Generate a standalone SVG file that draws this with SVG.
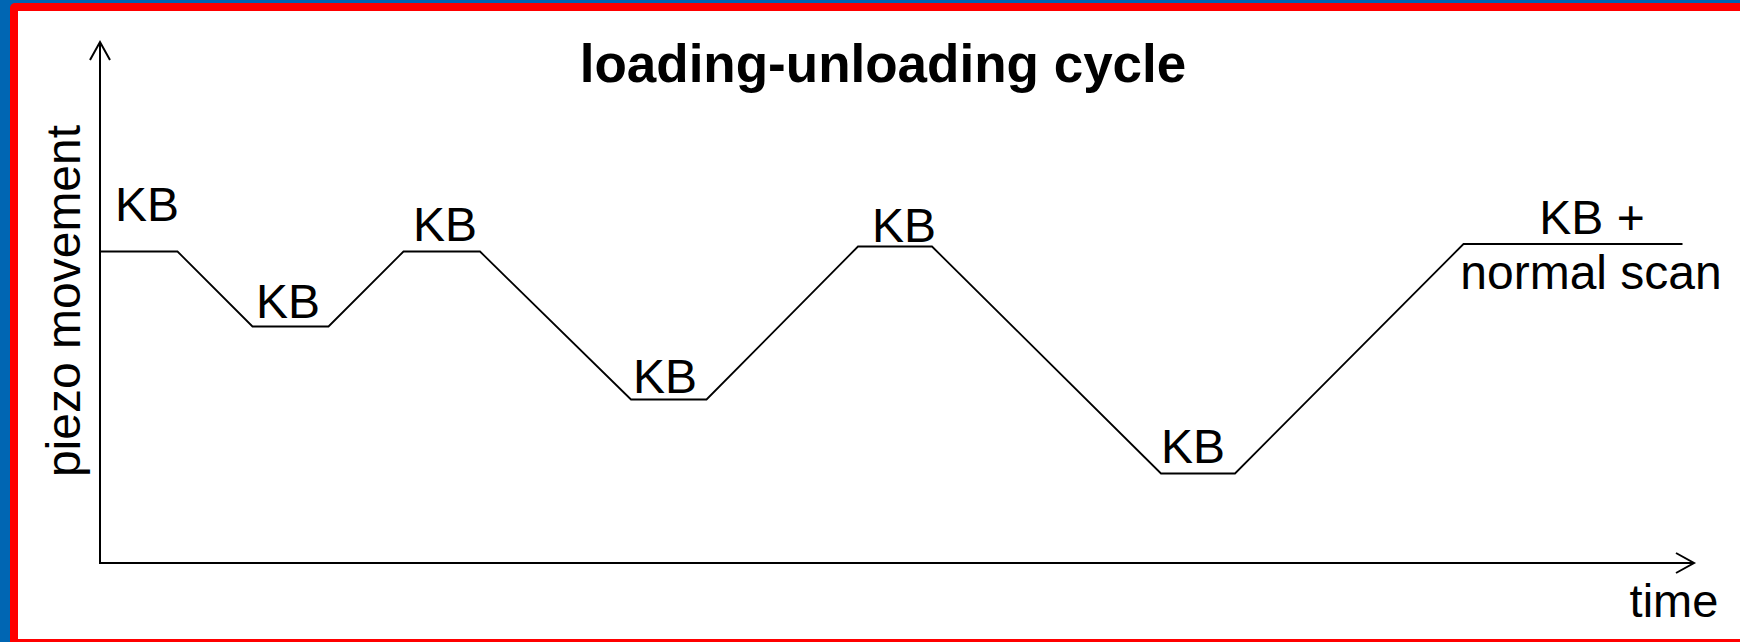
<svg xmlns="http://www.w3.org/2000/svg" width="1740" height="642" viewBox="0 0 1740 642">
  <style>
    .ln { fill: none; stroke: #000; stroke-width: 1.8; stroke-linejoin: miter; stroke-linecap: butt; }
    .ax { fill: none; stroke: #000; stroke-width: 2; }
    .lbl { font-family: "Liberation Sans", Arial, sans-serif; font-size: 48px; fill: #000; }
    .title { font-family: "Liberation Sans", Arial, sans-serif; font-size: 53px; font-weight: bold; fill: #000; }
  </style>
  <defs>
    <marker id="arrow" markerWidth="24" markerHeight="24" viewBox="-20 -12 24 24" refX="0" refY="0" orient="auto" markerUnits="userSpaceOnUse">
      <path d="M -18 -10 L 0 0 L -18 10" fill="none" stroke="#000" stroke-width="2"/>
    </marker>
  </defs>
  <g id="frame">
    <rect x="0" y="0" width="1740" height="642" fill="#0066b3"/>
    <rect x="10" y="3" width="1760" height="660" rx="5" fill="#ff0000"/>
    <rect x="18" y="11" width="1740" height="628" fill="#ffffff"/>
  </g>
  <g id="title">
    <text class="title" x="883" y="82" text-anchor="middle">loading-unloading cycle</text>
  </g>
  <g id="connectors">
    <path id="y-axis" class="ax" d="M 100 563 L 100 42" marker-end="url(#arrow)"/>
    <path id="x-axis" class="ax" d="M 99 563 L 1694 563" marker-end="url(#arrow)"/>
    <path id="cycle" class="ln" d="M 100 251.5 L 177.5 251.5 L 252.5 326.5 L 328.5 326.5 L 403.5 251.5 L 480 251.5 L 631 399.5 L 706.5 399.5 L 858 246.5 L 932 246.5 L 1161 473.5 L 1235 473.5 L 1463.5 244 L 1682.5 244"/>
  </g>
  <g id="axis-labels">
    <text id="ylabel" class="lbl" transform="translate(80 301) rotate(-90)" text-anchor="middle">piezo movement</text>
    <text id="xlabel" class="lbl" x="1674" y="617" text-anchor="middle" style="font-size:47px">time</text>
  </g>
  <g id="kb1"><text class="lbl" x="147" y="221" text-anchor="middle">KB</text></g>
  <g id="kb2"><text class="lbl" x="288" y="318" text-anchor="middle">KB</text></g>
  <g id="kb3"><text class="lbl" x="445" y="241" text-anchor="middle">KB</text></g>
  <g id="kb4"><text class="lbl" x="665" y="393" text-anchor="middle">KB</text></g>
  <g id="kb5"><text class="lbl" x="904" y="242" text-anchor="middle">KB</text></g>
  <g id="kb6"><text class="lbl" x="1193" y="463" text-anchor="middle">KB</text></g>
  <g id="kb7">
    <text class="lbl" x="1592" y="234" text-anchor="middle">KB +</text>
    <text class="lbl" x="1591" y="289" text-anchor="middle">normal scan</text>
  </g>
</svg>
